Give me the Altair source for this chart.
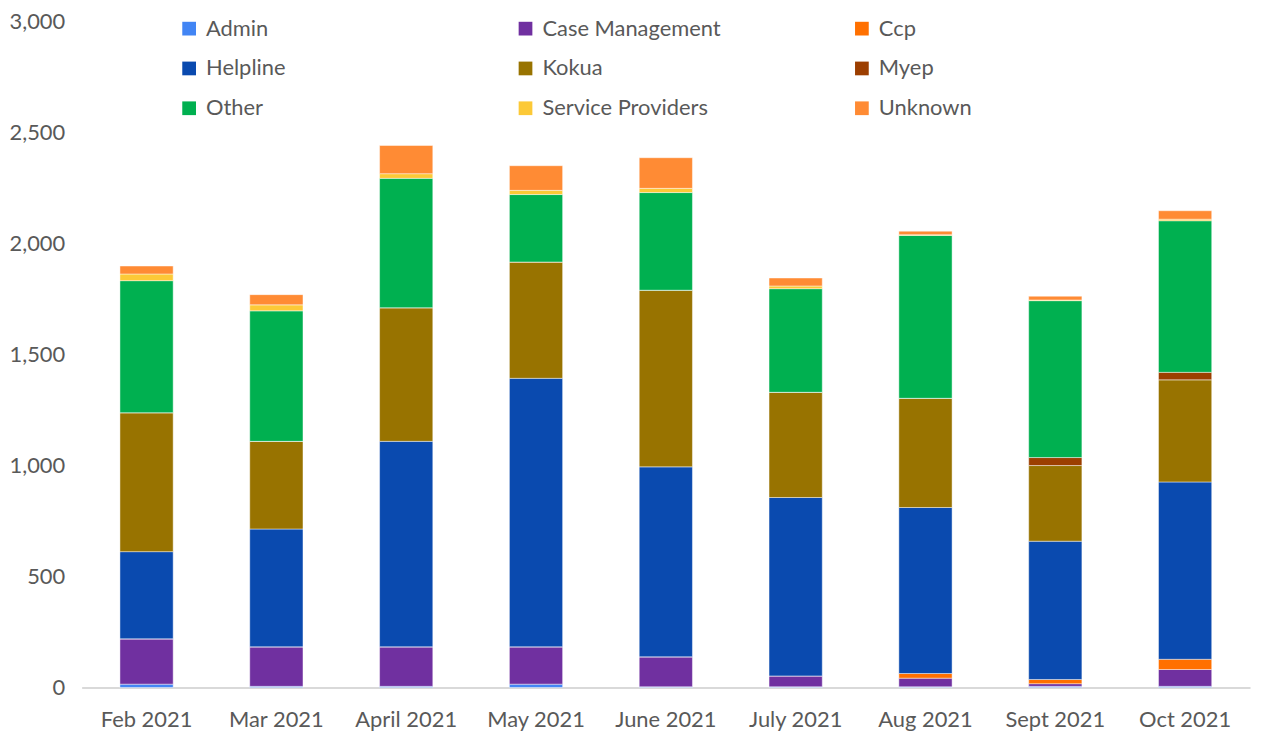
import altair as alt
import pandas as pd

months = ["Feb 2021", "Mar 2021", "April 2021", "May 2021", "June 2021",
          "July 2021", "Aug 2021", "Sept 2021", "Oct 2021"]
series = ["Admin", "Case Management", "Ccp", "Helpline", "Kokua", "Myep",
          "Other", "Service Providers", "Unknown"]
colors = ["#4285F4", "#7030A0", "#FF7000", "#0A4AAF", "#987300", "#9C3E00",
          "#00B050", "#FCC937", "#FF8B34"]

admin = [15, 5, 5, 15, 3, 3, 3, 5, 5]
case_management = [204, 178, 178, 168, 135, 49, 39, 12, 76]
ccp = [0, 0, 0, 0, 0, 0, 21, 19, 46]
helpline = [393, 531, 926, 1210, 856, 804, 748, 623, 799]
kokua = [626, 395, 602, 524, 796, 474, 492, 341, 460]
myep = [0, 0, 0, 0, 0, 0, 0, 36, 34]
other = [595, 588, 583, 304, 440, 467, 734, 707, 683]
service_providers = [30, 27, 21, 19, 19, 12, 3, 3, 7]
unknown = [36, 46, 127, 111, 138, 36, 16, 17, 38]

values = [admin, case_management, ccp, helpline, kokua, myep, other,
          service_providers, unknown]

rows = []
for si, (name, vals) in enumerate(zip(series, values)):
    for mi, (m, v) in enumerate(zip(months, vals)):
        rows.append({"month": m, "series": name, "value": v, "order": si})
df = pd.DataFrame(rows)

font = "Lato"
txt = "#595959"

chart = alt.Chart(df).mark_bar(
    stroke="white", strokeWidth=1, strokeOpacity=0.45
).encode(
    x=alt.X("month:N", sort=months, title=None,
            scale=alt.Scale(paddingInner=0.59, paddingOuter=0.295),
            axis=alt.Axis(labelAngle=0, ticks=False, domainColor="#D9D9D9",
                          domainWidth=2, labelPadding=22, labelFontSize=22,
                          labelColor=txt, labelFont=font)),
    y=alt.Y("value:Q", stack="zero", title=None,
            scale=alt.Scale(domain=[0, 3000]),
            axis=alt.Axis(values=[0, 500, 1000, 1500, 2000, 2500, 3000],
                          format=",.0f", grid=False, ticks=False, domain=False,
                          labelPadding=17, labelFontSize=22, labelColor=txt,
                          labelFont=font)),
    color=alt.Color("series:N", sort=series,
                    scale=alt.Scale(domain=series, range=colors),
                    legend=alt.Legend(title=None, orient="none", legendX=97,
                                      legendY=-4, columns=3, gridAlign="all",
                                      direction="horizontal",
                                      columnPadding=130, rowPadding=18,
                                      symbolType="square", symbolSize=190,
                                      symbolStrokeWidth=0, labelFontSize=22,
                                      labelLimit=400,
                                      labelColor=txt, labelFont=font,
                                      labelOffset=6)),
    order=alt.Order("order:Q", sort="ascending"),
).properties(
    width=1174, height=669,
    padding={"left": 74, "top": 12, "right": 4, "bottom": 43},
    autosize=alt.AutoSizeParams(type="none"),
).configure_view(stroke=None)

chart.save("out.html", embed_options={"renderer": "svg", "actions": False})
